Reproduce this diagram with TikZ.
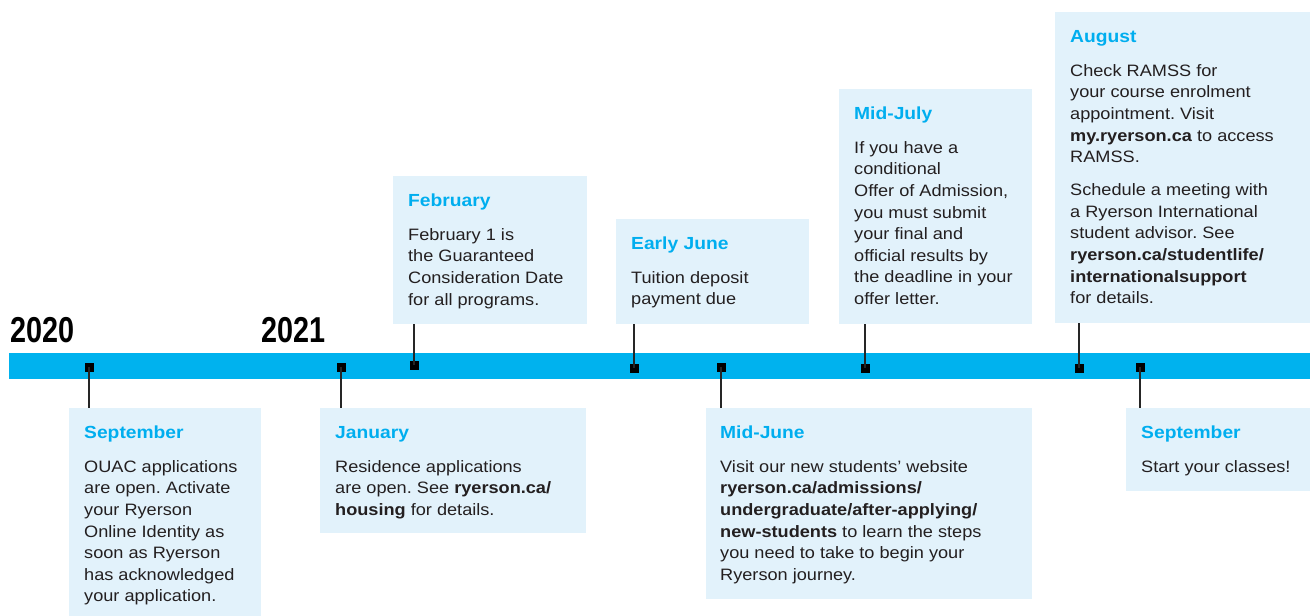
\documentclass[tikz,border=0pt]{standalone}
\usepackage{fontspec}
\setmainfont[FakeStretch=1.1]{Liberation Sans}
\newfontfamily\yearfont[FakeStretch=0.8]{Liberation Sans}
\usetikzlibrary{calc}
\frenchspacing
\definecolor{barblue}{RGB}{0,178,238}
\definecolor{titleblue}{RGB}{0,174,239}
\definecolor{boxfill}{RGB}{226,242,251}
\definecolor{bodytext}{RGB}{35,31,32}
\tikzset{
  evbox/.style={fill=boxfill, draw=none, anchor=north west, inner sep=0pt, outer sep=0pt},
  evtitle/.style={anchor=base west, inner sep=0pt, text=titleblue, font=\fontsize{17.5}{21}\selectfont\bfseries},
  evbody/.style={anchor=north west, inner sep=0pt, align=left, text=bodytext, font=\fontsize{16.5}{21.6}\selectfont\frenchspacing},
  marker/.style={fill=black, minimum size=9pt, inner sep=0pt, outer sep=0pt},
  link/.style={draw=black!85, line width=1.2pt},
  yearlabel/.style={anchor=base west, inner sep=0pt, text=black, font=\yearfont\fontsize{36}{40}\selectfont\bfseries},
}
\begin{document}
\begin{tikzpicture}[x=1pt,y=-1pt]
\useasboundingbox (0,0) rectangle (1310,616);

% timeline bar
\fill[barblue] (9,353) rectangle (1310,379);

% years
\node[yearlabel] (y2020) at (10,342) {2020};
\node[yearlabel] (y2021) at (261,342) {2021};

% boxes
\node[evbox, minimum width=192pt, minimum height=208pt] (bsep) at (69,408) {};
\node[evbox, minimum width=266pt, minimum height=125pt] (bjan) at (320,408) {};
\node[evbox, minimum width=194pt, minimum height=148pt] (bfeb) at (393,176) {};
\node[evbox, minimum width=193pt, minimum height=105pt] (bejun) at (616,219) {};
\node[evbox, minimum width=326pt, minimum height=191pt] (bmjun) at (706,408) {};
\node[evbox, minimum width=193pt, minimum height=235pt] (bmjul) at (839,89) {};
\node[evbox, minimum width=255pt, minimum height=311pt] (baug) at (1055,12) {};
\node[evbox, minimum width=184pt, minimum height=83pt] (bsep21) at (1126,408) {};

% markers
\node[marker] (msep) at (89,367) {};
\node[marker] (mjan) at (341,367) {};
\node[marker] (mfeb) at (414,365) {};
\node[marker] (mejun) at (634,368) {};
\node[marker] (mmjun) at (721,367) {};
\node[marker] (mmjul) at (865,368) {};
\node[marker] (maug) at (1079,368) {};
\node[marker] (msep21) at (1140,367) {};

% connectors
\draw[link] (msep.center) -- (msep |- bsep.north);
\draw[link] (mjan.center) -- (mjan |- bjan.north);
\draw[link] (mfeb.center) -- (mfeb |- bfeb.south);
\draw[link] (mejun.center) -- (mejun |- bejun.south);
\draw[link] (mmjun.center) -- (mmjun |- bmjun.north);
\draw[link] (mmjul.center) -- (mmjul |- bmjul.south);
\draw[link] (maug.center) -- (maug |- baug.south);
\draw[link] (msep21.center) -- (msep21 |- bsep21.north);

% September 2020
\node[evtitle] (tsep) at ($(bsep.north west)+(15,30)$) {September};
\node[evbody] (dsep) at ($(bsep.north west)+(15,48.9)$) {\strut OUAC applications\\are open. Activate\\your Ryerson\\Online Identity as\\soon as Ryerson\\has acknowledged\\your application.};

% January
\node[evtitle] (tjan) at ($(bjan.north west)+(15,30)$) {January};
\node[evbody] (djan) at ($(bjan.north west)+(15,48.9)$) {\strut Residence applications\\are open. See \textbf{ryerson.ca/}\\\textbf{housing} for details.};

% February
\node[evtitle] (tfeb) at ($(bfeb.north west)+(15,30)$) {February};
\node[evbody] (dfeb) at ($(bfeb.north west)+(15,48.9)$) {\strut February 1 is\\the Guaranteed\\Consideration Date\\for all programs.};

% Early June
\node[evtitle] (tejun) at ($(bejun.north west)+(15,30)$) {Early June};
\node[evbody] (dejun) at ($(bejun.north west)+(15,48.9)$) {\strut Tuition deposit\\payment due};

% Mid-June
\node[evtitle] (tmjun) at ($(bmjun.north west)+(14,30)$) {Mid-June};
\node[evbody] (dmjun) at ($(bmjun.north west)+(14,48.9)$) {\strut Visit our new students’ website\\\textbf{ryerson.ca/admissions/}\\\textbf{undergraduate/after-applying/}\\\textbf{new-students} to learn the steps\\you need to take to begin your\\Ryerson journey.};

% Mid-July
\node[evtitle] (tmjul) at ($(bmjul.north west)+(15,30)$) {Mid-July};
\node[evbody] (dmjul) at ($(bmjul.north west)+(15,48.9)$) {\strut If you have a\\conditional\\Offer of Admission,\\you must submit\\your final and\\official results by\\the deadline in your\\offer letter.};

% August
\node[evtitle] (taug) at ($(baug.north west)+(15,30)$) {August};
\node[evbody] (daug) at ($(baug.north west)+(15,48.9)$) {\strut Check RAMSS for\\your course enrolment\\appointment. Visit\\\textbf{my.ryerson.ca} to access\\RAMSS.\\[11.4pt]Schedule a meeting with\\a Ryerson International\\student advisor. See\\\textbf{ryerson.ca/studentlife/}\\\textbf{internationalsupport}\\for details.};

% September 2021
\node[evtitle] (tsep21) at ($(bsep21.north west)+(15,30)$) {September};
\node[evbody] (dsep21) at ($(bsep21.north west)+(15,48.9)$) {\strut Start your classes!};
\end{tikzpicture}
\end{document}
